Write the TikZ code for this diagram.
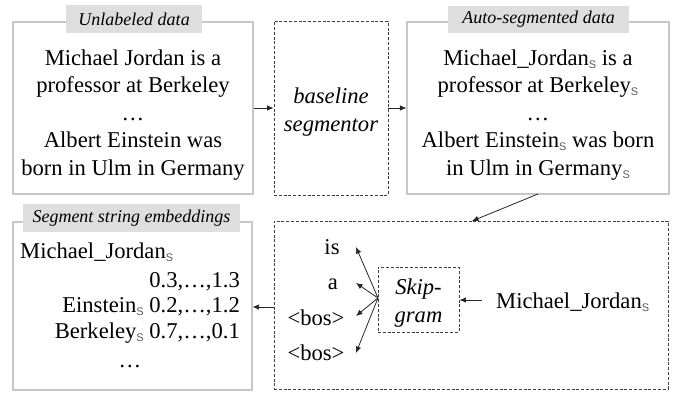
\documentclass[tikz,border=0pt]{standalone}
\usepackage{fontspec}
\setmainfont{Liberation Serif}
\newfontfamily\subsf{Liberation Sans}
\usetikzlibrary{arrows.meta}
\newcommand{\bigtxt}{\fontsize{22.6}{27.5}\selectfont}
\newcommand{\labtxt}{\fontsize{18}{20}\selectfont\itshape}
\newcommand{\sS}{\raisebox{-3pt}{\fontsize{11}{11}\selectfont\subsf\color{black!65}S}}
\begin{document}
\begin{tikzpicture}[x=1pt,y=-1pt,
  solidbox/.style={draw=black!22,line width=1.1pt,inner sep=0pt},
  dashbox/.style={draw=black!75,line width=0.9pt,dash pattern=on 3pt off 1.8pt,inner sep=0pt},
  tagbox/.style={fill=black!13,inner sep=0pt,font=\labtxt},
  txt/.style={font=\bigtxt,align=center,inner sep=0pt},
  arr/.style={draw=black!85,line width=0.8pt,-{Latex[length=6.5pt,width=5.5pt]}}]
\useasboundingbox (0,0) rectangle (674,392);
% boxes
\node[solidbox,minimum width=240pt,minimum height=172pt] (b1) at (133,108) {};
\node[dashbox,minimum width=114pt,minimum height=174pt] (seg) at (331,108) {};
\node[solidbox,minimum width=262pt,minimum height=172pt] (b2) at (538,108) {};
\node[solidbox,minimum width=239pt,minimum height=168pt] (b3) at (132.5,306) {};
\node[dashbox,minimum width=394pt,minimum height=168pt] (b4) at (471,305) {};
\node[dashbox,minimum width=81pt,minimum height=65pt] (skip) at (418.5,299.5) {};
% tags
\node[tagbox,minimum width=136pt,minimum height=28pt] (t1) at (134,19) {Unlabeled data};
\node[tagbox,minimum width=181pt,minimum height=27pt] (t2) at (538.5,19.5) {Auto-segmented data};
\node[tagbox,minimum width=217pt,minimum height=28pt] (t3) at (131.5,218) {Segment string embeddings};
% texts
\node[txt] (x1) at (133,115) {Michael Jordan is a\\professor at Berkeley\\\dots\\Albert Einstein was\\born in Ulm in Germany};
\node[txt,font=\bigtxt\itshape] (x2) at (331,112) {baseline\\segmentor};
\node[txt] (x3) at (538,115) {Michael\_Jordan\sS{} is a\\professor at Berkeley\sS\\\dots\\Albert Einstein\sS{} was born\\in Ulm in Germany\sS};
\node[txt,font=\bigtxt\itshape] (x4) at (418.5,303) {Skip-\\gram};
\node[txt,anchor=west] (mj) at (496,302) {Michael\_Jordan\sS};
\node[txt] (w1) at (332,247) {is};
\node[txt] (w2) at (333,284) {a};
\node[txt] (w3) at (316,318) {\textless bos\textgreater};
\node[txt] (w4) at (316,353) {\textless bos\textgreater};
\coordinate (c1) at (356,247);
\coordinate (c2) at (356,283);
\coordinate (c3) at (356,316);
\coordinate (c4) at (356,353);
\coordinate (sw) at (378,298);
\node[txt,anchor=west] (e1) at (20,252) {Michael\_Jordan\sS};
\node[txt,anchor=east] (e2) at (240,282) {0.3,\dots,1.3};
\node[txt,anchor=east] (e3) at (240,307) {Einstein\sS{} 0.2,\dots,1.2};
\node[txt,anchor=east] (e4) at (240,333) {Berkeley\sS{} 0.7,\dots,0.1};
\node[txt] (e5) at (130,366) {\dots};
% arrows
\draw[arr] (b1.east |- 0,108) -- (seg.west |- 0,108);
\draw[arr] (seg.east |- 0,108) -- (b2.west |- 0,108);
\draw[arr] (538,194) -- (472,221);
\draw[arr] (mj.west) ++(-14,-2) -- (skip.east |- 0,300);
\draw[arr] (sw) -- (c1);
\draw[arr] (sw) -- (c2);
\draw[arr] (sw) -- (c3);
\draw[arr] (sw) -- (c4);
\draw[arr] (b4.west |- 0,307) -- (b3.east |- 0,307);
\end{tikzpicture}
\end{document}
